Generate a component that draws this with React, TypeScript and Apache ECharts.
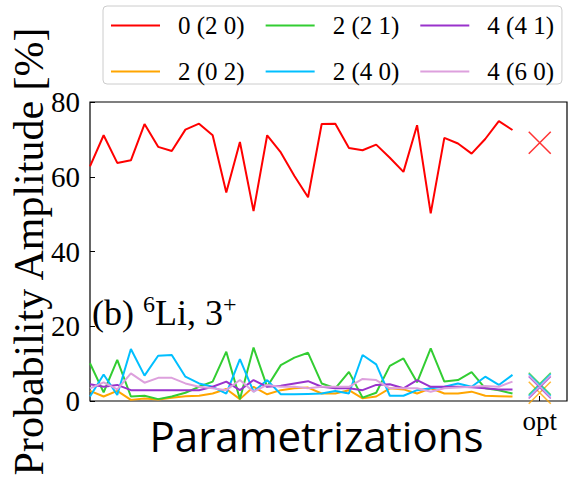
import React, { useEffect, useRef } from "react";
import * as echarts from "echarts";

const seriesNames = ["0 (2 0)", "2 (0 2)", "2 (2 1)", "2 (4 0)", "4 (4 1)", "4 (6 0)"];
const seriesColors = ["#ff0000", "#ffa500", "#32cd32", "#00bfff", "#9932cc", "#dda0dd"];

const red = [62.8, 71.1, 63.7, 64.4, 74.1, 68.0, 66.9, 72.6, 74.2, 71.1, 55.8, 69.3, 50.8, 71.1, 66.5, 60.2, 54.5, 74.1, 74.2, 67.7, 67.1, 68.6, 65.1, 61.3, 73.8, 50.2, 70.4, 68.9, 66.2, 70.1, 74.9, 72.5];
const orange = [2.7, 1.2, 2.7, 0.3, 0.7, 0.4, 0.9, 1.3, 1.4, 2.0, 3.2, 0.5, 3.8, 1.8, 2.9, 3.4, 3.6, 2.0, 2.0, 2.9, 0.7, 1.2, 3.4, 3.1, 2.0, 3.4, 2.0, 2.0, 2.5, 1.4, 1.3, 1.2];
const green = [10.1, 2.3, 11.0, 1.2, 1.4, 0.5, 1.2, 2.2, 3.8, 5.2, 13.2, 0.5, 14.3, 3.8, 9.6, 11.6, 12.9, 4.7, 3.4, 7.8, 0.9, 2.2, 9.4, 11.4, 5.0, 14.1, 5.2, 5.6, 7.7, 3.4, 2.9, 2.0];
const cyan = [1.2, 7.1, 1.6, 13.9, 6.8, 12.1, 12.3, 6.5, 4.7, 3.8, 2.0, 11.2, 2.5, 5.6, 1.8, 1.8, 1.9, 2.0, 2.7, 2.0, 12.3, 9.8, 1.4, 1.4, 2.9, 3.4, 3.8, 4.7, 3.8, 6.5, 4.3, 7.0];
const purple = [4.5, 3.8, 4.3, 2.9, 2.9, 2.9, 2.9, 2.9, 2.9, 3.8, 5.2, 2.9, 5.6, 3.8, 4.1, 4.7, 5.3, 3.8, 3.4, 3.4, 2.9, 4.3, 4.5, 3.4, 5.6, 3.8, 3.8, 3.8, 3.7, 3.4, 3.1, 3.1];
const pink = [3.4, 5.0, 3.1, 7.4, 4.9, 6.2, 6.2, 4.7, 3.8, 3.4, 2.9, 5.6, 2.5, 4.3, 3.8, 3.8, 3.4, 3.8, 3.8, 3.8, 5.9, 5.6, 3.4, 3.4, 3.4, 2.5, 3.4, 3.6, 3.8, 4.0, 3.8, 5.2];
const optValues = [69.1, 2.2, 4.6, 4.3, 3.6, 3.9];
const optPosition = 33;
const xMax = 35;
const yTicks = [0, 20, 40, 60, 80];

const allSeries = [red, orange, green, cyan, purple, pink];
const serif = "Liberation Serif";

export default function App() {
  const ref = useRef<HTMLDivElement>(null);
  useEffect(() => {
    if (!ref.current) return;
    const chart = echarts.init(ref.current, undefined, { renderer: "svg" });
    const lineSeries = allSeries.map((vals, i) => ({
      type: "line",
      name: seriesNames[i],
      data: vals.map((v, j) => [j, v]),
      symbol: "none",
      showSymbol: false,
      lineStyle: { color: seriesColors[i], width: 2 },
      itemStyle: { color: seriesColors[i] },
      z: 2 + i,
    }));
    const optSeries = optValues.map((v, i) => ({
      type: "scatter",
      name: "opt " + seriesNames[i],
      data: [[optPosition, v]],
      symbol: "path://M0,0L10,10M10,0L0,10",
      symbolSize: 22,
      itemStyle: { color: seriesColors[i], borderColor: seriesColors[i], borderWidth: 1.5 },
      z: 10 + i,
    }));
    chart.setOption({
      animation: false,
      backgroundColor: "#ffffff",
      title: {
        text: "(b) {sup|6}Li, 3{sup|+}",
        left: 92,
        top: 292,
        padding: 0,
        textStyle: {
          fontFamily: serif,
          fontSize: 36,
          fontWeight: "normal",
          color: "#000",
          lineHeight: 42,
          rich: {
            sup: { fontFamily: serif, fontSize: 24, verticalAlign: "top", lineHeight: 24, color: "#000" },
          },
        },
      },
      legend: {
        data: ["0 (2 0)", "2 (2 1)", "4 (4 1)", "2 (0 2)", "2 (4 0)", "4 (6 0)"],
        left: 103,
        top: 6,
        width: 480,
        padding: [7, 8, 0, 8],
        itemGap: 21,
        itemWidth: 49,
        itemHeight: 2,
        icon: "rect",
        borderColor: "#cccccc",
        borderWidth: 1,
        borderRadius: 4,
        textStyle: {
          fontFamily: serif,
          fontSize: 25,
          color: "#000",
          padding: [0, 2, 0, 13],
        },
      },
      grid: {
        left: 90,
        top: 102,
        right: 1,
        bottom: 76,
        show: true,
        borderColor: "#000",
        borderWidth: 1.2,
        outerBoundsMode: "none",
        containLabel: false,
      },
      xAxis: {
        type: "value",
        min: 0,
        max: xMax,
        interval: optPosition,
        name: "Parametrizations",
        nameLocation: "middle",
        nameGap: 13,
        nameMoveOverlap: false,
        nameTextStyle: { fontFamily: "Open Sans", fontSize: 42, color: "#000", padding: [0, 24, 0, 0] },
        axisLine: { show: false },
        axisTick: { show: true, inside: true, length: 5, lineStyle: { color: "#000" } },
        splitLine: { show: false },
        axisLabel: {
          fontFamily: serif,
          fontSize: 27,
          color: "#000",
          margin: 6,
          showMinLabel: false,
          showMaxLabel: false,
          formatter: (v: number) => (v === optPosition ? "opt" : ""),
        },
      },
      yAxis: {
        type: "value",
        min: yTicks[0],
        max: yTicks[yTicks.length - 1],
        interval: 20,
        name: "Probability Amplitude [%]",
        nameLocation: "middle",
        nameRotate: 90,
        nameGap: 40,
        nameMoveOverlap: false,
        nameTextStyle: { fontFamily: serif, fontSize: 42, color: "#000" },
        axisLine: { show: false },
        axisTick: { show: true, inside: true, length: 5, lineStyle: { color: "#000" } },
        splitLine: { show: false },
        axisLabel: { fontFamily: serif, fontSize: 29, color: "#000", margin: 10 },
      },
      series: [...lineSeries, ...optSeries],
    });
    return () => chart.dispose();
  }, []);
  return (
    <div
      ref={ref}
      style={{ position: "fixed", left: 0, top: 0, width: 568, height: 477 }}
    />
  );
}
